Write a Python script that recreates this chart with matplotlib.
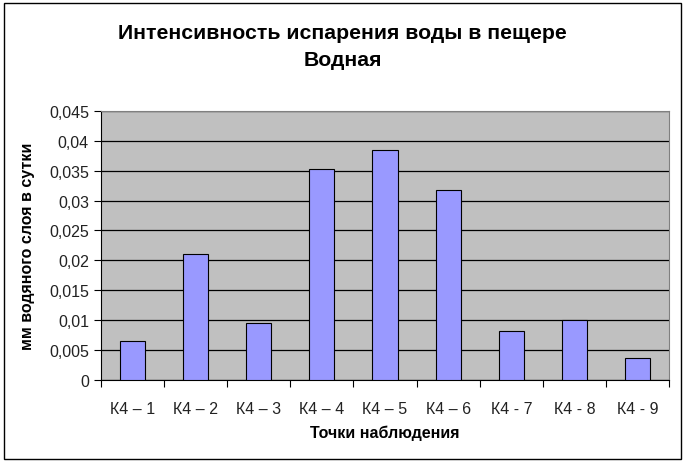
import matplotlib
matplotlib.use("Agg")
from matplotlib import pyplot as plt
from matplotlib.patches import Rectangle

# Data
points = ["К4 – 1", "К4 – 2", "К4 – 3", "К4 – 4", "К4 – 5",
          "К4 – 6", "К4 - 7", "К4 - 8", "К4 - 9"]
evaporation = [0.0065, 0.021, 0.0095, 0.0352, 0.0385, 0.0317, 0.0082, 0.0101, 0.0037]
yticks = [0, 0.005, 0.01, 0.015, 0.02, 0.025, 0.03, 0.035, 0.04, 0.045]

plt.rcParams['font.family'] = ['Liberation Sans', 'DejaVu Sans']

fig = plt.figure(figsize=(6.85, 4.64), dpi=100)
ax = fig.add_axes([0.147, 0.179, 0.830, 0.580])
ax.set_facecolor('#c0c0c0')

x = list(range(len(points)))
ax.bar(x, evaporation, width=0.4, color='#9999ff', edgecolor='black', linewidth=0.8, zorder=3)

ax.set_xlim(-0.5, len(points) - 0.5)
ax.set_ylim(0, 0.045)
ax.set_yticks(yticks)
ax.set_yticklabels([('%g' % v).replace('.', ',') for v in yticks], fontsize=11.5, color='#222222')
ax.yaxis.grid(True, color='black', linewidth=0.9, zorder=1)

# category labels centered, tick marks between categories
ax.set_xticks(x)
ax.set_xticklabels(points, fontsize=11.5, color='#222222')
ax.tick_params(axis='x', length=0, pad=15)
ax.set_xticks([i - 0.5 for i in range(len(points) + 1)], minor=True)
ax.tick_params(axis='x', which='minor', length=5, width=0.8)
ax.tick_params(axis='y', length=5, width=0.8)

for side in ['top', 'right']:
    ax.spines[side].set_color('#808080')
for side in ['left', 'bottom']:
    ax.spines[side].set_color('black')

ax.set_xlabel('Точки наблюдения', fontsize=11.5, fontweight='bold', labelpad=6)
ax.set_ylabel('мм водяного слоя в сутки', fontsize=11.5, fontweight='bold', labelpad=10)

fig.text(0.50, 0.898, 'Интенсивность испарения воды в пещере\nВодная',
         ha='center', va='center', fontsize=15.3, fontweight='bold', linespacing=1.55)

# outer chart border
fig.patches.append(Rectangle((0.006, 0.008), 0.988, 0.984, transform=fig.transFigure,
                             fill=False, edgecolor='black', linewidth=1))

plt.savefig('out.png', dpi=100)
plt.close()
